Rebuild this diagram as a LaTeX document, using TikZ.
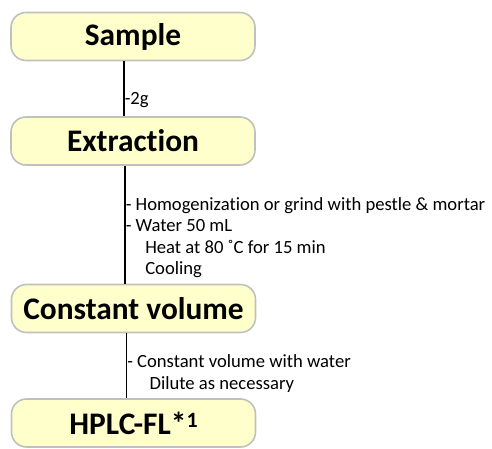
\documentclass[tikz,border=0pt]{standalone}
\usepackage{fontspec}
\setmainfont{Carlito}[Ligatures=NoCommon]
\usepackage{xcolor}
\definecolor{stepfill}{RGB}{255,255,204}
\definecolor{stepedge}{RGB}{192,192,192}

\tikzset{
  stepbox/.style={draw=stepedge, line width=1.6bp, fill=stepfill, rounded corners=15bp,
    minimum width=244bp, minimum height=48bp, inner sep=0pt,
    font=\fontsize{31.5}{34}\selectfont\bfseries},
  note/.style={anchor=west, inner sep=0pt, align=left,
    font=\fontsize{18.7}{21.6}\selectfont},
  link/.style={line width=1.5bp}
}

\begin{document}
\begin{tikzpicture}[x=1bp, y=-1bp]
    \useasboundingbox (0,0) rectangle (492,449);

    % Steps
    \node[stepbox] (sample) at (133,36.5) {Sample};
    \node[stepbox] (extraction) at (133,141) {Extraction};
    \node[stepbox] (volume) at (133.5,308.5) {Constant volume};
    \node[stepbox] (hplc) at (133.5,423) {HPLC-FL*\raisebox{0.45ex}{\fontsize{22}{24}\selectfont 1}};

    % Connections with conditions
    \draw[link] ([xshift=-9bp]sample.south) -- ([xshift=-9bp]extraction.north)
        node[note, pos=0.7] (weigh) {-2g};
    \draw[link] ([xshift=-8bp]extraction.south) -- ([xshift=-8.5bp]volume.north)
        node[note, pos=0.61] (extract) {- Homogenization or grind with pestle \& mortar\\
        - Water 50 mL\\
        \hspace*{1.05em}Heat at 80 ˚C for 15 min\\
        \hspace*{1.05em}Cooling};
    \draw[link] ([xshift=-7bp]volume.south) -- ([xshift=-7bp]hplc.north)
        node[note, pos=0.62] (dilute) {- Constant volume with water\\
        \hspace*{1.2em}Dilute as necessary};
\end{tikzpicture}
\end{document}
